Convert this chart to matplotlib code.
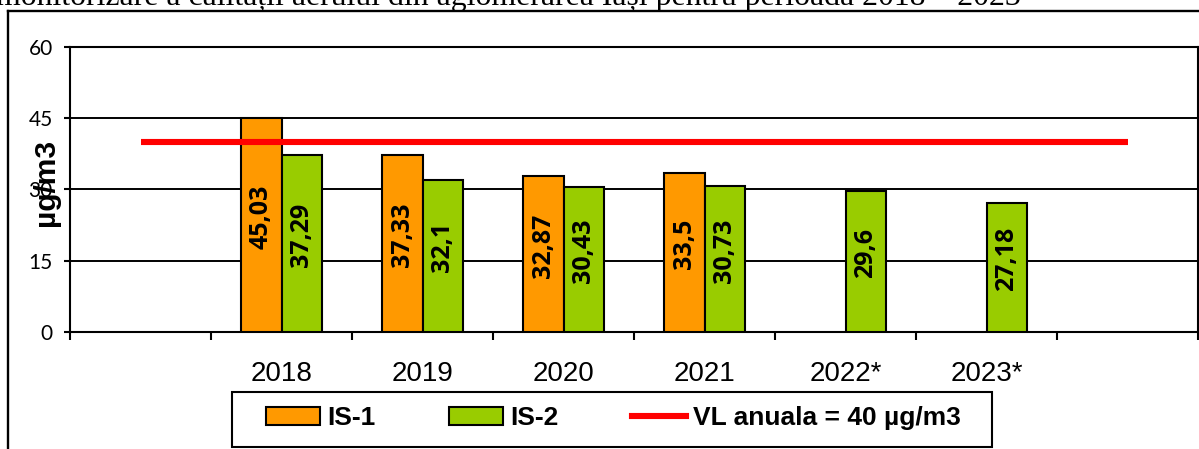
import numpy as np
import matplotlib
matplotlib.use("Agg")
import matplotlib.pyplot as plt
from matplotlib.patches import Patch, Rectangle
from matplotlib.lines import Line2D

# ---- data ----
categories = ["", "2018", "2019", "2020", "2021", "2022*", "2023*", ""]
is1_values = [np.nan, 45.03, 37.33, 32.87, 33.5, np.nan, np.nan, np.nan]
is2_values = [np.nan, 37.29, 32.1, 30.43, 30.73, 29.6, 27.18, np.nan]
vl_values = [40, 40, 40, 40, 40, 40, 40, 40]
y_ticks = [0, 15, 30, 45, 60]
series_names = ["IS-1", "IS-2", "VL anuala = 40 µg/m3"]
title_text = "monitorizare a calității aerului din aglomerarea Iași pentru perioada 2018 – 2023"

W, H = 1199, 449
fig = plt.figure(figsize=(W / 100, H / 100), dpi=100)
ax = fig.add_axes([70 / W, 1 - 332 / H, (1198 - 70) / W, (332 - 47) / H])

x = np.arange(len(categories))
bw = 0.287
c1, c2, cr = "#FF9900", "#99CC00", "#FF0000"

ax.bar(x - bw / 2, is1_values, bw, color=c1, edgecolor="black", linewidth=1.5, zorder=3)
ax.bar(x + bw / 2, is2_values, bw, color=c2, edgecolor="black", linewidth=1.5, zorder=3)
ax.plot(x, vl_values, color=cr, linewidth=4.4, zorder=4, solid_capstyle="butt")

def fmt(v):
    s = f"{v:.2f}".rstrip("0").rstrip(".")
    return s.replace(".", ",")

for vals, off in ((is1_values, -bw / 2), (is2_values, bw / 2)):
    for xi, v in zip(x, vals):
        if np.isnan(v):
            continue
        ax.text(xi + off, v / 2 + 1.8, fmt(v), rotation=90, ha="center", va="center",
                fontsize=18, fontweight="bold", family="Open Sans", zorder=5)

ax.set_xlim(-0.5, len(categories) - 0.5)
ax.set_ylim(0, 60)
ax.set_yticks(y_ticks)
ax.yaxis.grid(True, color="black", linewidth=1.4, zorder=0)
ax.set_axisbelow(True)
ax.set_xticks(x)
ax.set_xticklabels(categories, fontsize=20, family="Liberation Sans")
ax.set_xticks(np.arange(-0.5, len(categories), 1), minor=True)
ax.tick_params(axis="x", which="major", length=0, pad=21)
ax.tick_params(axis="x", which="minor", length=6, width=1.5, direction="out")
ax.tick_params(axis="y", length=4.5, width=1.5, direction="out", pad=8)
for lab in ax.get_yticklabels():
    lab.set_fontsize(15)
    lab.set_family("Lato")
for s in ax.spines.values():
    s.set_linewidth(1.5)
    s.set_color("black")

ax.set_ylabel("µg/m3", fontsize=21.5, fontweight="bold", family="Liberation Sans", va="center")
ax.yaxis.set_label_coords((46.5 - 70) / 1128, (332 - 182) / 285)

handles = [Patch(facecolor=c1, edgecolor="black", linewidth=1.5),
           Patch(facecolor=c2, edgecolor="black", linewidth=1.5),
           Line2D([], [], color=cr, linewidth=4.4)]
fig.legend(handles, series_names, ncol=3, frameon=False, loc="center",
           bbox_to_anchor=(613.5 / W, 1 - 418 / H),
           prop={"family": "Liberation Sans", "weight": "bold", "size": 19},
           handlelength=2.05, handleheight=0.68, handletextpad=0.27, columnspacing=2.77)
fig.add_artist(Rectangle((232 / W, 1 - 447 / H), (992 - 232) / W, 55 / H,
                         transform=fig.transFigure, fill=False, edgecolor="black", linewidth=1.5))

# outer chart border (top and left visible)
fig.add_artist(Line2D([7.5 / W, 7.5 / W], [0, 1 - 11 / H], transform=fig.transFigure,
                      color="black", linewidth=1.7))
fig.add_artist(Line2D([7.5 / W, 1], [1 - 11 / H, 1 - 11 / H], transform=fig.transFigure,
                      color="black", linewidth=1.7))

fig.text(-4 / W, 1 - 5 / H, title_text, family="Liberation Serif", fontsize=22.9,
         ha="left", va="baseline")

fig.savefig("out.png", dpi=100)
